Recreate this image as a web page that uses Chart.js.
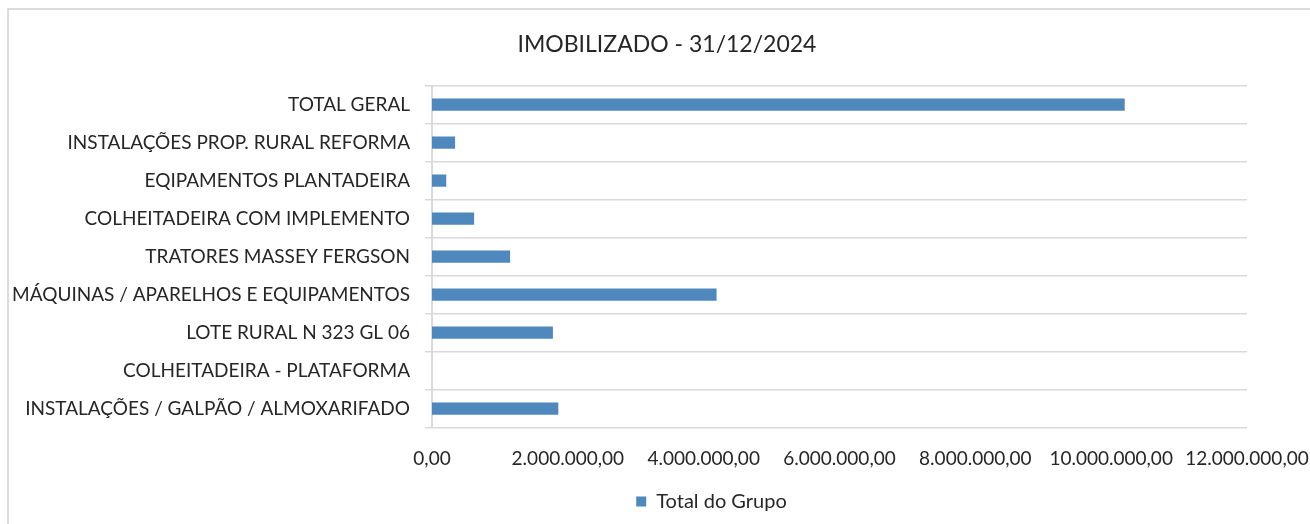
<!DOCTYPE html>
<html>
<head>
<meta charset="utf-8">
<script src="https://cdn.jsdelivr.net/npm/chart.js@4.4.1/dist/chart.umd.min.js"></script>
<style>
  html, body { margin: 0; padding: 0; background: #ffffff; }
  #wrap { width: 1310px; height: 524px; position: relative; }
</style>
</head>
<body>
<div id="wrap"><canvas id="c" width="1310" height="524"></canvas></div>
<script>
const titleText = 'IMOBILIZADO - 31/12/2024';
const seriesName = 'Total do Grupo';
const categories = [
  'TOTAL GERAL',
  'INSTALAÇÕES PROP. RURAL REFORMA',
  'EQIPAMENTOS PLANTADEIRA',
  'COLHEITADEIRA COM IMPLEMENTO',
  'TRATORES MASSEY FERGSON',
  'MÁQUINAS / APARELHOS E EQUIPAMENTOS',
  'LOTE RURAL N 323 GL 06',
  'COLHEITADEIRA - PLATAFORMA',
  'INSTALAÇÕES / GALPÃO / ALMOXARIFADO'
];
const values = [10200000, 340000, 210000, 620000, 1150000, 4190000, 1780000, 0, 1860000];
const axisMin = 0;
const axisMax = 12000000;
const axisStep = 2000000;

function fmtBR(v) {
  const neg = v < 0;
  const s = Math.abs(v).toFixed(2);
  const parts = s.split('.');
  const intPart = parts[0].replace(/\B(?=(\d{3})+(?!\d))/g, '.');
  return (neg ? '-' : '') + intPart + ',' + parts[1];
}

const FONT = 'Lato';
const TEXT = '#262626';
const GRID = '#d9d9d9';

const framePlugin = {
  id: 'frame',
  beforeDraw(chart) {
    const ctx = chart.ctx;
    ctx.save();
    ctx.fillStyle = '#ffffff';
    ctx.fillRect(0, 0, chart.width, chart.height);
    ctx.strokeStyle = '#d0d0d0';
    ctx.lineWidth = 1.5;
    ctx.beginPath();
    ctx.moveTo(8, chart.height + 2);
    ctx.lineTo(8, 9);
    ctx.lineTo(chart.width + 2, 9);
    ctx.stroke();
    ctx.restore();
  }
};

const boxShift = {
  id: 'boxShift',
  afterLayout(chart) {
    if (chart.titleBlock) {
      chart.titleBlock.left += 43.5;
      chart.titleBlock.right += 43.5;
    }
    if (chart.legend) {
      chart.legend.left += 88;
      chart.legend.right += 88;
    }
  }
};

new Chart(document.getElementById('c'), {
  type: 'bar',
  data: {
    labels: categories,
    datasets: [{
      label: seriesName,
      data: values,
      backgroundColor: '#4f88bd',
      borderWidth: 0,
      barPercentage: 0.32,
      categoryPercentage: 1
    }]
  },
  options: {
    indexAxis: 'y',
    responsive: false,
    animation: false,
    devicePixelRatio: 1,
    layout: { padding: { left: 0, right: 63, top: 0, bottom: 2.5 } },
    scales: {
      x: {
        min: axisMin,
        max: axisMax,
        grid: { display: false, drawTicks: false },
        border: { display: false },
        ticks: {
          stepSize: axisStep,
          padding: 20,
          color: TEXT,
          font: { family: FONT, size: 19 },
          maxRotation: 0,
          callback: (v) => fmtBR(v)
        },
        afterFit(scale) {
          scale.paddingLeft = 0;
          scale.paddingRight = 0;
          scale.height -= 3;
        }
      },
      y: {
        grid: { display: true, offset: true, color: GRID, lineWidth: 1.5, tickLength: 7, drawTicks: true },
        border: { display: true, color: GRID, width: 2 },
        ticks: {
          padding: 15,
          color: TEXT,
          font: { family: FONT, size: 19 },
          autoSkip: false
        },
        afterFit(scale) { scale.width = 432; }
      }
    },
    plugins: {
      title: {
        display: true,
        text: titleText,
        color: TEXT,
        font: { family: FONT, size: 23, weight: 'normal' },
        padding: { top: 31, bottom: 27 }
      },
      legend: {
        display: true,
        position: 'bottom',
        labels: {
          boxWidth: 10,
          boxHeight: 10,
          padding: 4,
          color: TEXT,
          font: { family: FONT, size: 20 }
        }
      },
      tooltip: { enabled: false }
    }
  },
  plugins: [framePlugin, boxShift]
});
</script>
</body>
</html>
